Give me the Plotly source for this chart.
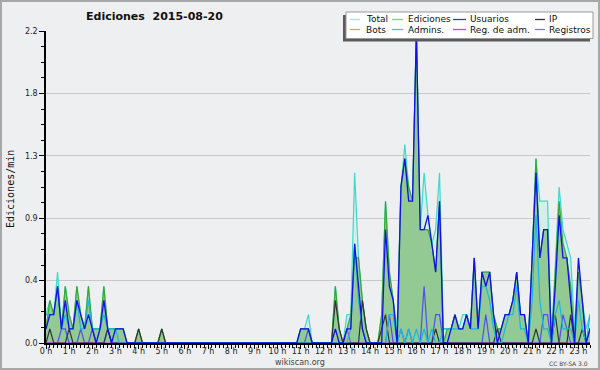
import plotly.graph_objects as go

# 10-minute slots (0..143), values in edits per minute
slots = list(range(144))
hours = [s / 6 for s in slots]
hour_ticks = list(range(24))
hour_labels = [f"{h} h" for h in hour_ticks]
y_ticks = [0, 0.44, 0.88, 1.32, 1.76, 2.2]
y_labels = ["0.0", "0.4", "0.9", "1.3", "1.8", "2.2"]

total = [
    .2, .3, .2, .5, .1, .4, .2, .1, .4, .2, .1, .4,
    .1, .1, .1, .4, .1, .1, .1, .1, .1, 0, 0, 0,
    .1, 0, 0, 0, 0, 0, .1, 0, 0, 0, 0, 0,
    0, 0, 0, 0, 0, 0, 0, 0, 0, 0, 0, 0,
    0, 0, 0, 0, 0, 0, 0, 0, 0, 0, 0, 0,
    0, 0, 0, 0, 0, 0, .1, .1, .2, 0, 0, 0,
    0, 0, 0, .4, .1, 0, .2, .2, 1.2, .6, .3, .1,
    0, 0, 0, .2, 1.0, .5, .3, .1, 1.1, 1.4, 1.1, 1.0,
    2.2, .8, 1.2, .9, .7, .8, 1.2, .1, .1, .1, .2, .1,
    .2, .2, .1, .6, .1, .5, .5, .5, .2, .1, .1, .2,
    .2, .3, .5, .2, .2, 0, .6, 1.3, 1.0, 1.0, 1.0, 0,
    .6, 1.1, .8, .7, .6, .1, .5, .3, .1, .2, .1, 0,
]
ediciones = [
    .1, .3, .2, .4, .1, .4, .2, .1, .4, .2, .1, .4,
    .1, .1, .1, .4, .1, .1, .1, .1, .1, 0, 0, 0,
    .1, 0, 0, 0, 0, 0, .1, 0, 0, 0, 0, 0,
    0, 0, 0, 0, 0, 0, 0, 0, 0, 0, 0, 0,
    0, 0, 0, 0, 0, 0, 0, 0, 0, 0, 0, 0,
    0, 0, 0, 0, 0, 0, .1, .1, .1, 0, 0, 0,
    0, 0, 0, .4, .1, 0, .1, .2, .6, .6, .3, .1,
    0, 0, 0, .2, 1.0, .5, .3, 0, 1.1, 1.3, 1.1, 1.0,
    2.2, .8, .8, .8, .7, .5, 1.0, 0, .1, .1, .2, .1,
    .1, .2, .1, .6, .1, .5, .5, .5, .2, .1, .1, .2,
    .2, .3, .5, .2, .2, 0, .6, 1.3, .6, .8, .8, 0,
    .5, 1.0, .7, .6, .4, 0, .5, .3, 0, .1, .1, 0,
]
usuarios = [
    .1, .2, .2, .4, .1, .3, .1, .1, .3, .2, .1, .2,
    .1, 0, .1, .3, .1, 0, .1, .1, .1, 0, 0, 0,
    0, 0, 0, 0, 0, 0, 0, 0, 0, 0, 0, 0,
    0, 0, 0, 0, 0, 0, 0, 0, 0, 0, 0, 0,
    0, 0, 0, 0, 0, 0, 0, 0, 0, 0, 0, 0,
    0, 0, 0, 0, 0, 0, .1, .1, .1, 0, 0, 0,
    0, 0, 0, .1, 0, 0, .1, .1, .7, .4, .1, 0,
    0, 0, 0, 0, .8, .4, .3, 0, 1.1, 1.3, 1.0, 1.0,
    2.2, .8, .8, .9, .7, .5, 1.0, 0, 0, .1, .2, .1,
    .1, .2, .1, .6, .1, .5, .4, .5, .2, 0, .1, .2,
    .2, .3, .5, .2, .2, 0, .6, 1.2, .6, .8, .8, 0,
    .4, .9, .6, .6, .3, 0, .6, .3, 0, .1, .1, 0,
]
ip = [
    0, .1, 0, 0, 0, 0, .1, 0, 0, 0, 0, 0,
    0, 0, 0, 0, .1, 0, 0, 0, 0, 0, 0, 0,
    .1, 0, 0, 0, 0, 0, .1, 0, 0, 0, 0, 0,
    0, 0, 0, 0, 0, 0, 0, 0, 0, 0, 0, 0,
    0, 0, 0, 0, 0, 0, 0, 0, 0, 0, 0, 0,
    0, 0, 0, 0, 0, 0, 0, 0, 0, 0, 0, 0,
    0, 0, 0, .3, .1, 0, 0, 0, 0, 0, .3, .1,
    0, 0, 0, .1, .2, 0, 0, 0, 0, 0, 0, 0,
    0, 0, 0, 0, 0, .1, 0, 0, 0, 0, 0, 0,
    0, 0, 0, 0, 0, 0, 0, 0, 0, .1, 0, 0,
    0, 0, 0, 0, 0, 0, 0, .1, 0, 0, 0, 0,
    .2, 0, 0, 0, .2, 0, 0, .1, 0, 0, 0, 0,
]
bots = [0] * 144
admins = [
    .2, .2, .2, .4, .1, .2, .1, .1, .3, .1, .1, .3,
    .1, .1, .1, .2, .1, .1, .1, 0, 0, 0, 0, 0,
    0, 0, 0, 0, 0, 0, 0, 0, 0, 0, 0, 0,
    0, 0, 0, 0, 0, 0, 0, 0, 0, 0, 0, 0,
    0, 0, 0, 0, 0, 0, 0, 0, 0, 0, 0, 0,
    0, 0, 0, 0, 0, 0, 0, 0, 0, 0, 0, 0,
    0, 0, 0, 0, 0, 0, 0, .1, .7, .3, .1, 0,
    0, 0, 0, 0, 0, .2, .2, 0, .1, 0, .1, 0,
    .1, 0, .1, 0, .1, 0, 0, .1, .1, .1, .1, .1,
    .1, .2, .1, .1, .1, .4, .4, .3, .1, 0, 0, .1,
    .2, .2, .4, .1, .1, 0, .3, .9, .3, .1, .1, 0,
    .2, .3, .1, .1, .1, 0, .3, .1, 0, .2, .2, 0,
]
reg_adm = [
    0, 0, 0, 0, 0, 0, 0, 0, 0, 0, 0, 0,
    0, 0, 0, 0, 0, 0, 0, 0, 0, 0, 0, 0,
    0, 0, 0, 0, 0, 0, 0, 0, 0, 0, 0, 0,
    0, 0, 0, 0, 0, 0, 0, 0, 0, 0, 0, 0,
    0, 0, 0, 0, 0, 0, 0, 0, 0, 0, 0, 0,
    0, 0, 0, 0, 0, 0, 0, 0, 0, 0, 0, 0,
    0, 0, 0, 0, 0, 0, .1, 0, 0, 0, 0, 0,
    0, 0, 0, 0, 0, 0, 0, 0, 0, 0, 0, 0,
    0, 0, 0, 0, 0, 0, 0, 0, 0, 0, 0, 0,
    0, 0, 0, 0, 0, 0, 0, 0, 0, 0, 0, 0,
    0, 0, 0, 0, 0, 0, 0, 0, 0, 0, 0, 0,
    0, 0, 0, 0, 0, 0, 0, 0, 0, 0, 0, 0,
]
registros = [
    0, 0, 0, 0, .1, .1, 0, 0, 0, .1, 0, 0,
    .1, 0, 0, 0, .1, 0, 0, 0, 0, 0, 0, 0,
    0, 0, 0, 0, 0, 0, 0, 0, 0, 0, 0, 0,
    0, 0, 0, 0, 0, 0, 0, 0, 0, 0, 0, 0,
    0, 0, 0, 0, 0, 0, 0, 0, 0, 0, 0, 0,
    0, 0, 0, 0, 0, 0, 0, 0, .1, 0, 0, 0,
    0, 0, 0, 0, 0, 0, 0, 0, 0, 0, 0, 0,
    0, 0, 0, 0, 0, .2, 0, 0, .1, 0, .1, 0,
    0, 0, .4, 0, 0, .2, .2, 0, 0, 0, 0, 0,
    0, 0, 0, 0, 0, 0, .2, 0, 0, 0, 0, 0,
    0, 0, 0, 0, 0, 0, 0, 0, 0, .2, .2, 0,
    0, 0, .2, .1, 0, 0, 0, 0, 0, 0, 0, 0,
]

legend_names = ["Total", "Ediciones", "Usuarios", "IP",
                "Bots", "Admins.", "Reg. de adm.", "Registros"]
legend_colors = ["#a8e2da", "#86cc86", "#3a3ad8", "#333333",
                 "#f0a040", "#40c4e0", "#cc44dd", "#7878ee"]

W, H = 600, 370
L, R, T, B = 46, 10, 31, 27
PW, PH = W - L - R, H - T - B


def px(x):
    return (x - L) / PW


def py(y):
    return (H - B - y) / PH


fig = go.Figure()

fig.add_trace(go.Scatter(x=hours, y=total, mode="lines", fill="tozeroy",
                         fillcolor="#d4efe9", line=dict(color="#3fd8cc", width=1.2),
                         name="Total", showlegend=False))
fig.add_trace(go.Scatter(x=hours, y=ediciones, mode="lines", fill="tozeroy",
                         fillcolor="#93c993", line=dict(color="#33a833", width=1.2),
                         name="Ediciones", showlegend=False))
fig.add_trace(go.Scatter(x=hours, y=bots, mode="lines",
                         line=dict(color="#f0a040", width=1.2), name="Bots", showlegend=False))
fig.add_trace(go.Scatter(x=hours, y=reg_adm, mode="lines",
                         line=dict(color="#b040e0", width=1.2), name="Reg. de adm.", showlegend=False))
fig.add_trace(go.Scatter(x=hours, y=registros, mode="lines",
                         line=dict(color="#5050f0", width=1.2), name="Registros", showlegend=False))
fig.add_trace(go.Scatter(x=hours, y=ip, mode="lines",
                         line=dict(color="#333333", width=1.2), name="IP", showlegend=False))
fig.add_trace(go.Scatter(x=hours, y=admins, mode="lines",
                         line=dict(color="#1ab8e0", width=1.2), name="Admins.", showlegend=False))
fig.add_trace(go.Scatter(x=hours, y=usuarios, mode="lines",
                         line=dict(color="#1010e8", width=1.3), name="Usuarios", showlegend=False))

shapes = []
annotations = []

# outer frame
shapes.append(dict(type="rect", xref="paper", yref="paper",
                   x0=px(1), x1=px(599), y0=py(369), y1=py(1),
                   line=dict(color="#a8a8a8", width=2), fillcolor="rgba(0,0,0,0)", layer="above"))

# legend box with shadow
shapes.append(dict(type="rect", xref="paper", yref="paper",
                   x0=px(343), x1=px(590), y0=py(41.5), y1=py(15),
                   line=dict(width=0), fillcolor="#5a5a5a", layer="above"))
shapes.append(dict(type="rect", xref="paper", yref="paper",
                   x0=px(346), x1=px(593), y0=py(38.5), y1=py(12),
                   line=dict(color="#999999", width=1), fillcolor="#ffffff", layer="above"))

col_line = [(350, 360), (392, 403), (453, 466), (535, 545)]
col_text = [364, 406, 468, 547]
row_y = [19.5, 29.5]
for k, (nm, col) in enumerate(zip(legend_names, legend_colors)):
    r, c = divmod(k, 4)
    x0, x1 = col_line[c]
    shapes.append(dict(type="line", xref="paper", yref="paper",
                       x0=px(x0), x1=px(x1), y0=py(row_y[r]), y1=py(row_y[r]),
                       line=dict(color=col, width=1.3), layer="above"))
    annotations.append(dict(xref="paper", yref="paper", x=px(col_text[c]), y=py(row_y[r]),
                            text=nm, showarrow=False, xanchor="left", yanchor="middle",
                            font=dict(family="DejaVu Sans", size=9, color="#111111")))

annotations.append(dict(xref="paper", yref="paper", x=px(154), y=py(17),
                        text="Ediciones  2015-08-20", showarrow=False,
                        xanchor="center", yanchor="middle",
                        font=dict(family="DejaVu Sans", size=11, color="#111111", weight="bold")))
annotations.append(dict(xref="paper", yref="paper", x=px(10), y=py(189),
                        text="Ediciones/min", showarrow=False, textangle=-90,
                        xanchor="center", yanchor="middle",
                        font=dict(family="DejaVu Sans Mono", size=10, color="#111111")))
annotations.append(dict(xref="paper", yref="paper", x=px(300), y=py(362),
                        text="wikiscan.org", showarrow=False,
                        xanchor="center", yanchor="middle",
                        font=dict(family="DejaVu Sans", size=8, color="#444444")))
annotations.append(dict(xref="paper", yref="paper", x=px(590), y=py(363),
                        text="CC BY-SA 3.0", showarrow=False,
                        xanchor="right", yanchor="middle",
                        font=dict(family="DejaVu Sans", size=6, color="#444444")))

fig.update_layout(
    width=W, height=H,
    margin=dict(l=L, r=R, t=T, b=B, pad=0),
    paper_bgcolor="#eeeff1", plot_bgcolor="#eeeff1",
    showlegend=False,
    shapes=shapes, annotations=annotations,
    xaxis=dict(range=[0, 23.5], tickmode="array", tickvals=hour_ticks, ticktext=hour_labels,
               ticks="outside", ticklen=4, tickwidth=1, tickcolor="#000000",
               showline=True, linecolor="#000000", linewidth=1.5,
               showgrid=False, zeroline=False, ticklabelstandoff=-4,
               tickfont=dict(family="DejaVu Sans", size=8, color="#222222"),
               minor=dict(tickmode="linear", tick0=0, dtick=1 / 6, ticks="outside",
                          ticklen=3, tickcolor="#000000", showgrid=False)),
    yaxis=dict(range=[0, 2.2], tickmode="array", tickvals=y_ticks, ticktext=y_labels,
               ticks="outside", ticklen=5, tickwidth=1, tickcolor="#000000",
               showline=True, linecolor="#000000", linewidth=1.5,
               showgrid=True, gridcolor="#c8c8c8", gridwidth=1, zeroline=False,
               tickfont=dict(family="DejaVu Sans", size=8, color="#222222"),
               minor=dict(tickmode="linear", tick0=0, dtick=0.11, ticks="outside",
                          ticklen=3, tickcolor="#000000", showgrid=False)),
)

fig.write_html("out.html", config={"displayModeBar": False},
               post_script="document.body.style.margin='0px';document.body.style.overflow='hidden';")
